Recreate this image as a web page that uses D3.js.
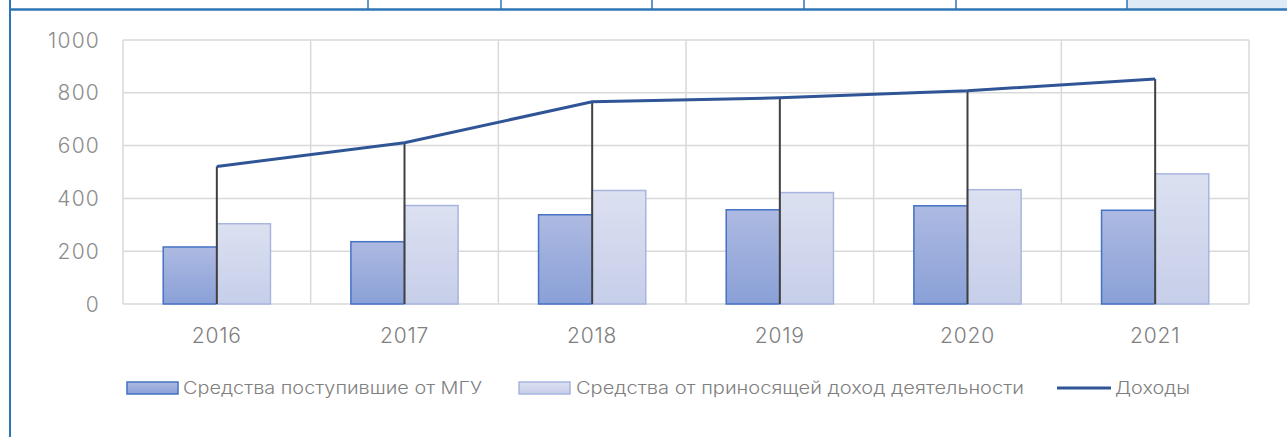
<!DOCTYPE html>
<html>
<head>
<meta charset="utf-8">
<script src="https://cdn.jsdelivr.net/npm/d3@7"></script>
<style>
  html, body { margin: 0; padding: 0; background: #fff; }
  svg { display: block; font-family: Inter, "Noto Sans", sans-serif; }
</style>
</head>
<body>
<svg id="chart" width="1287" height="437"></svg>
<script>
// Data
const years    = ["2016", "2017", "2018", "2019", "2020", "2021"];
const fromMSU  = [216, 236, 338, 357, 372, 355];   // Средства поступившие от МГУ
const ownFunds = [304, 373, 430, 422, 433, 493];   // Средства от приносящей доход деятельности
const income   = [521, 611, 766, 781, 808, 852];   // Доходы
const yTicks   = [0, 200, 400, 600, 800, 1000];

const LABELS = {
    msu:    "Средства поступившие от МГУ",
    own:    "Средства от приносящей доход деятельности",
    income: "Доходы",
};

const svg = d3.select("#chart");
const W = 1287, H = 437;
const plot = { left: 123, right: 1249, top: 40, bottom: 304 };

// Frame: top table strip + left border
svg.append("rect").attr("x", 1127).attr("y", 0).attr("width", W - 1127).attr("height", 9)
    .attr("fill", "#deebf7");
[368, 501, 652, 804, 956, 1127].forEach(x => {
    svg.append("line").attr("x1", x).attr("x2", x).attr("y1", 0).attr("y2", 9)
        .attr("stroke", "#2e75b6").attr("stroke-width", 1.5);
});
svg.append("line").attr("x1", 9).attr("x2", W).attr("y1", 9.5).attr("y2", 9.5)
    .attr("stroke", "#2e75b6").attr("stroke-width", 2.5);
svg.append("line").attr("x1", 10).attr("x2", 10).attr("y1", 0).attr("y2", H)
    .attr("stroke", "#2e75b6").attr("stroke-width", 2);

// Gradients
const defs = svg.append("defs");
function grad(id, top, bottom) {
    const g = defs.append("linearGradient").attr("id", id)
        .attr("x1", 0).attr("y1", 0).attr("x2", 0).attr("y2", 1);
    g.append("stop").attr("offset", "0%").attr("stop-color", top);
    g.append("stop").attr("offset", "100%").attr("stop-color", bottom);
}
grad("g-msu", "#adbae2", "#8aa0d7");
grad("g-own", "#dce1f1", "#c6cee9");

const x = d3.scaleBand().domain(years).range([plot.left, plot.right]);
const inner = d3.scaleBand().domain(["msu", "own"]).range([0, x.bandwidth()]).paddingOuter(0.75);
const y = d3.scaleLinear().domain([0, 1000]).range([plot.bottom, plot.top]);

// Gridlines
const grid = svg.append("g").attr("stroke", "#d9d9d9").attr("stroke-width", 1.5);
grid.selectAll("line.h").data(yTicks).join("line").attr("class", "h")
    .attr("x1", plot.left).attr("x2", plot.right)
    .attr("y1", d => y(d)).attr("y2", d => y(d));
const vEdges = years.map(d => x(d)).concat([plot.right]);
grid.selectAll("line.v").data(vEdges).join("line").attr("class", "v")
    .attr("x1", d => d).attr("x2", d => d)
    .attr("y1", plot.top).attr("y2", plot.bottom);

// Y axis labels
svg.append("g").selectAll("text").data(yTicks).join("text")
    .attr("x", 100).attr("y", d => y(d)).attr("dy", "0.36em")
    .attr("text-anchor", "end").attr("font-size", 21).attr("font-weight", 300)
    .attr("letter-spacing", 1.2)
    .attr("fill", "#8c8c8c").text(d => d);

// X axis labels
svg.append("g").selectAll("text").data(years).join("text")
    .attr("x", d => x(d) + x.bandwidth() / 2).attr("y", 335).attr("dy", "0.36em")
    .attr("text-anchor", "middle").attr("font-size", 21).attr("font-weight", 300)
    .attr("letter-spacing", 0.8)
    .attr("fill", "#808080").text(d => d);

// Bars
const bars = svg.append("g");
bars.selectAll("rect.msu").data(years).join("rect").attr("class", "msu")
    .attr("x", d => x(d) + inner("msu")).attr("width", inner.bandwidth())
    .attr("y", (d, i) => y(fromMSU[i])).attr("height", (d, i) => y(0) - y(fromMSU[i]))
    .attr("fill", "url(#g-msu)").attr("stroke", "#4472c4").attr("stroke-width", 1.5);
bars.selectAll("rect.own").data(years).join("rect").attr("class", "own")
    .attr("x", d => x(d) + inner("own")).attr("width", inner.bandwidth())
    .attr("y", (d, i) => y(ownFunds[i])).attr("height", (d, i) => y(0) - y(ownFunds[i]))
    .attr("fill", "url(#g-own)").attr("stroke", "#a8b5df").attr("stroke-width", 1.5);

// Drop lines
const cx = d => x(d) + x.bandwidth() / 2;
svg.append("g").selectAll("line").data(years).join("line")
    .attr("x1", cx).attr("x2", cx)
    .attr("y1", (d, i) => y(income[i])).attr("y2", y(0))
    .attr("stroke", "#404040").attr("stroke-width", 2);

// Income line
const line = d3.line().x(d => cx(d.year)).y(d => y(d.v));
const pts = years.map((yr, i) => ({ year: yr, v: income[i] }));
svg.append("path").datum(pts).attr("d", line)
    .attr("fill", "none").attr("stroke", "#2f5597").attr("stroke-width", 3);

// Legend
const lg = svg.append("g").attr("font-size", 17).attr("font-weight", 300).attr("fill", "#7f7f7f");
lg.append("rect").attr("x", 127).attr("y", 382).attr("width", 51).attr("height", 12)
    .attr("fill", "url(#g-msu)").attr("stroke", "#4472c4").attr("stroke-width", 1.5);
lg.append("text").attr("x", 183).attr("y", 388).attr("dy", "0.36em")
    .attr("textLength", 299).attr("lengthAdjust", "spacingAndGlyphs").text(LABELS.msu);
lg.append("rect").attr("x", 519).attr("y", 382).attr("width", 51).attr("height", 12)
    .attr("fill", "url(#g-own)").attr("stroke", "#a8b5df").attr("stroke-width", 1.5);
lg.append("text").attr("x", 576).attr("y", 388).attr("dy", "0.36em")
    .attr("textLength", 448).attr("lengthAdjust", "spacingAndGlyphs").text(LABELS.own);
lg.append("line").attr("x1", 1057).attr("x2", 1111).attr("y1", 388).attr("y2", 388)
    .attr("stroke", "#2f5597").attr("stroke-width", 3);
lg.append("text").attr("x", 1115).attr("y", 388).attr("dy", "0.36em")
    .attr("textLength", 75).attr("lengthAdjust", "spacingAndGlyphs").text(LABELS.income);
</script>
</body>
</html>
